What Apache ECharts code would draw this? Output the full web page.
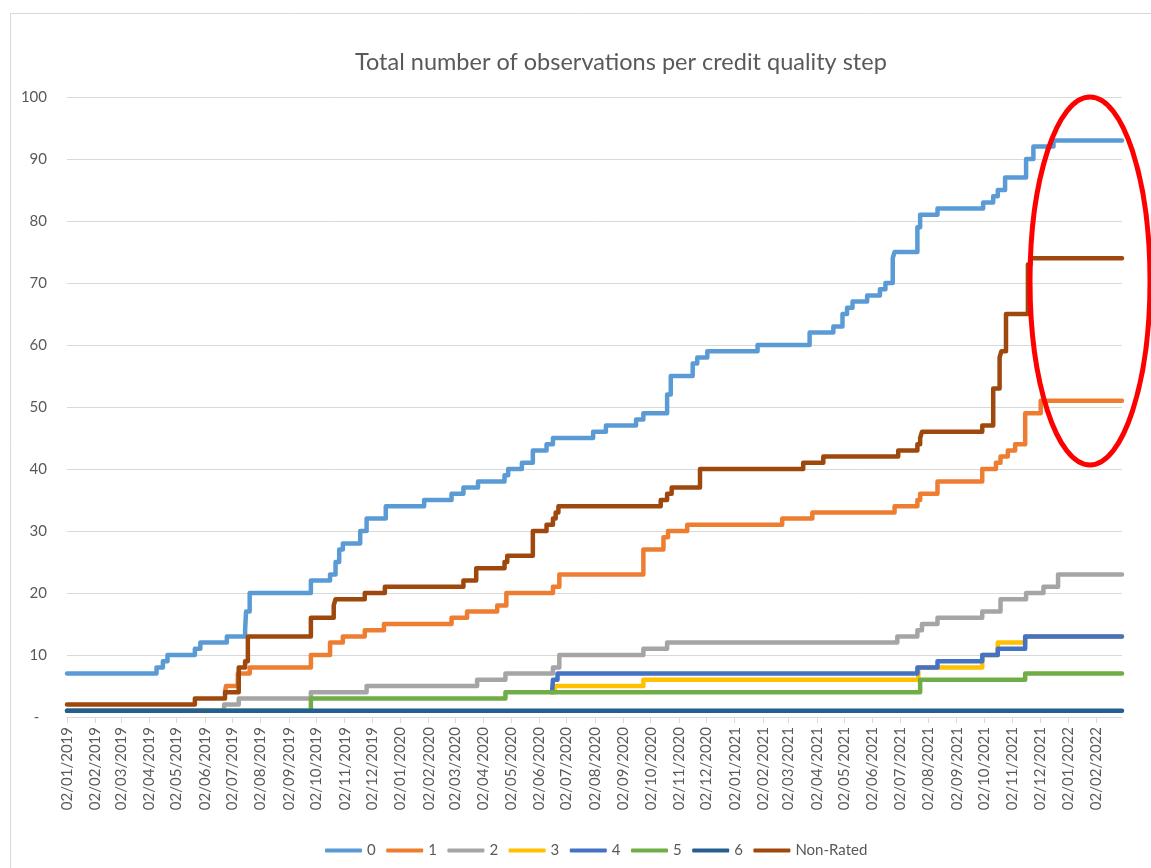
<!DOCTYPE html>
<html>
<head>
<meta charset="utf-8">
<script src="https://cdn.jsdelivr.net/npm/echarts@6/dist/echarts.min.js"></script>
<style>
html,body{margin:0;padding:0;background:#fff;}
#chart{width:1151px;height:868px;}
</style>
</head>
<body>
<div id="chart"></div>
<script>
const title = 'Total number of observations per credit quality step';
const seriesNames = ['0', '1', '2', '3', '4', '5', '6', 'Non-Rated'];
const seriesColors = ['#5B9BD5', '#ED7D31', '#A5A5A5', '#FFC000', '#4472C4', '#70AD47', '#255E91', '#9E480E'];
const axisStart = '2019-01-02';
const axisEnd = '2022-03-02';
const yTicks = [0, 10, 20, 30, 40, 50, 60, 70, 80, 90, 100];
const xTickLabels = ['02/01/2019','02/02/2019','02/03/2019','02/04/2019','02/05/2019','02/06/2019','02/07/2019','02/08/2019','02/09/2019','02/10/2019','02/11/2019','02/12/2019',
  '02/01/2020','02/02/2020','02/03/2020','02/04/2020','02/05/2020','02/06/2020','02/07/2020','02/08/2020','02/09/2020','02/10/2020','02/11/2020','02/12/2020',
  '02/01/2021','02/02/2021','02/03/2021','02/04/2021','02/05/2021','02/06/2021','02/07/2021','02/08/2021','02/09/2021','02/10/2021','02/11/2021','02/12/2021',
  '02/01/2022','02/02/2022'];

// [date on which the count changes, new count]
const cqs0 = [['2019-01-02',7],['2019-04-10',8],['2019-04-17',9],['2019-04-22',10],['2019-05-22',11],['2019-05-28',12],['2019-06-26',13],['2019-07-16',14],['2019-07-17',17],['2019-07-21',20],['2019-09-26',22],['2019-10-17',23],['2019-10-23',25],['2019-10-27',27],['2019-10-31',28],['2019-11-19',30],['2019-11-26',32],['2019-12-17',34],['2020-01-28',35],['2020-02-27',36],['2020-03-11',37],['2020-03-27',38],['2020-04-25',39],['2020-04-29',40],['2020-05-14',41],['2020-05-26',43],['2020-06-10',44],['2020-06-17',45],['2020-07-31',46],['2020-08-14',47],['2020-09-16',48],['2020-09-24',49],['2020-10-20',52],['2020-10-24',55],['2020-11-17',57],['2020-11-22',58],['2020-12-03',59],['2021-01-27',60],['2021-03-25',62],['2021-04-20',63],['2021-04-30',65],['2021-05-05',66],['2021-05-11',67],['2021-05-27',68],['2021-06-10',69],['2021-06-16',70],['2021-06-24',74],['2021-06-26',75],['2021-07-21',79],['2021-07-24',81],['2021-08-12',82],['2021-10-01',83],['2021-10-12',84],['2021-10-17',85],['2021-10-25',87],['2021-11-17',90],['2021-11-25',92],['2021-12-17',93],['2022-03-02',93]];
const cqs1 = [['2019-06-24',4],['2019-06-25',5],['2019-07-08',7],['2019-07-21',8],['2019-09-26',10],['2019-10-17',12],['2019-10-31',13],['2019-11-24',14],['2019-12-15',15],['2020-02-27',16],['2020-03-15',17],['2020-04-17',18],['2020-04-27',20],['2020-06-17',21],['2020-06-24',23],['2020-09-24',27],['2020-10-16',29],['2020-10-21',30],['2020-11-11',31],['2021-02-23',32],['2021-03-28',33],['2021-06-26',34],['2021-07-21',35],['2021-07-24',36],['2021-08-12',38],['2021-09-30',40],['2021-10-15',41],['2021-10-20',42],['2021-10-28',43],['2021-11-05',44],['2021-11-16',49],['2021-12-03',51],['2022-03-02',51]];
const cqs2 = [['2019-01-02',1],['2019-06-23',2],['2019-07-09',3],['2019-09-26',4],['2019-11-26',5],['2020-03-26',6],['2020-04-26',7],['2020-06-17',8],['2020-06-24',10],['2020-09-24',11],['2020-10-20',12],['2021-06-29',13],['2021-07-21',14],['2021-07-26',15],['2021-08-12',16],['2021-09-30',17],['2021-10-20',19],['2021-11-17',20],['2021-12-06',21],['2021-12-22',23],['2022-03-02',23]];
const cqs3 = [['2020-06-16',4],['2020-06-19',5],['2020-09-24',6],['2021-07-22',8],['2021-09-30',10],['2021-10-17',12],['2021-11-16',13],['2022-03-02',13]];
const cqs4 = [['2020-06-16',4],['2020-06-17',6],['2020-06-22',7],['2021-07-21',8],['2021-08-12',9],['2021-09-30',10],['2021-10-17',11],['2021-11-16',13],['2022-03-02',13]];
const cqs5 = [['2019-01-02',1],['2019-09-26',3],['2020-04-26',4],['2021-07-24',6],['2021-11-16',7],['2022-03-02',7]];
const cqs6 = [['2019-01-02',1],['2022-03-02',1]];
const nonRated = [['2019-01-02',2],['2019-05-22',3],['2019-06-24',4],['2019-07-09',8],['2019-07-16',9],['2019-07-19',13],['2019-09-26',16],['2019-10-21',18],['2019-10-23',19],['2019-11-24',20],['2019-12-16',21],['2020-03-11',22],['2020-03-25',24],['2020-04-25',25],['2020-04-28',26],['2020-05-26',30],['2020-06-10',31],['2020-06-17',32],['2020-06-20',33],['2020-06-23',34],['2020-10-13',35],['2020-10-20',36],['2020-10-25',37],['2020-11-25',40],['2021-03-18',41],['2021-04-09',42],['2021-06-30',43],['2021-07-21',44],['2021-07-24',45],['2021-07-26',46],['2021-09-30',47],['2021-10-12',53],['2021-10-19',58],['2021-10-21',59],['2021-10-26',65],['2021-11-19',73],['2021-11-22',74],['2022-03-02',74]];

const allSeries = [cqs0, cqs1, cqs2, cqs3, cqs4, cqs5, cqs6, nonRated];

function isoToTs(s) { const p = s.split('-').map(Number); return Date.UTC(p[0], p[1] - 1, p[2]); }
function dmyToTs(s) { const p = s.split('/').map(Number); return Date.UTC(p[2], p[1] - 1, p[0]); }
function pad(n) { return (n < 10 ? '0' : '') + n; }
function fmt(ts) { const d = new Date(ts); return pad(d.getUTCDate()) + '/' + pad(d.getUTCMonth() + 1) + '/' + d.getUTCFullYear(); }

const tickTs = xTickLabels.map(dmyToTs);
const FONT = 'Lato';

const chart = echarts.init(document.getElementById('chart'), null, { renderer: 'canvas' });
chart.setOption({
  backgroundColor: '#ffffff',
  animation: false,
  title: {
    text: title, left: 350, top: 45,
    textStyle: { fontFamily: FONT, fontSize: 23.5, fontWeight: 'normal', color: '#595959' }
  },
  legend: {
    data: seriesNames, bottom: 5, left: 320, icon: 'roundRect',
    itemWidth: 37, itemHeight: 4, itemGap: 10.5,
    textStyle: { fontFamily: FONT, fontSize: 15, color: '#595959' }
  },
  grid: { left: 67, right: 29, top: 97, bottom: 151, containLabel: false },
  xAxis: {
    type: 'value', min: isoToTs(axisStart), max: isoToTs(axisEnd),
    axisLine: { show: true, onZero: false, lineStyle: { color: '#D9D9D9', width: 1 } },
    axisTick: { show: true, customValues: tickTs, length: 6, lineStyle: { color: '#D9D9D9' } },
    axisLabel: {
      customValues: tickTs, rotate: 90, margin: 10, formatter: v => fmt(v),
      fontFamily: FONT, fontSize: 15, color: '#595959', hideOverlap: false
    },
    splitLine: { show: false }
  },
  yAxis: {
    type: 'value', min: yTicks[0], max: yTicks[yTicks.length - 1], interval: yTicks[1] - yTicks[0],
    axisLine: { show: false }, axisTick: { show: false },
    axisLabel: { margin: 20, fontFamily: FONT, fontSize: 15, color: '#595959', formatter: v => v === 0 ? '-  ' : String(v) },
    splitLine: { lineStyle: { color: '#D9D9D9', width: 1 } }
  },
  series: allSeries.map((arr, i) => ({
    name: seriesNames[i], type: 'line', step: 'end', symbol: 'none', showSymbol: false,
    data: arr.map(p => [isoToTs(p[0]), p[1]]),
    lineStyle: { color: seriesColors[i], width: 4.5, cap: 'round', join: 'round' },
    itemStyle: { color: seriesColors[i] },
    z: 2 + i
  })),
  graphic: [
    { type: 'rect', left: 8, top: 11, z: -10, silent: true,
      shape: { x: 0, y: 0, width: 1300, height: 1000 },
      style: { fill: 'none', stroke: '#D9D9D9', lineWidth: 1 } },
    { type: 'ellipse', z: 100, silent: true,
      shape: { cx: 1090, cy: 281, rx: 60, ry: 184 },
      style: { fill: 'none', stroke: '#FF0000', lineWidth: 5 } }
  ]
});
</script>
</body>
</html>
